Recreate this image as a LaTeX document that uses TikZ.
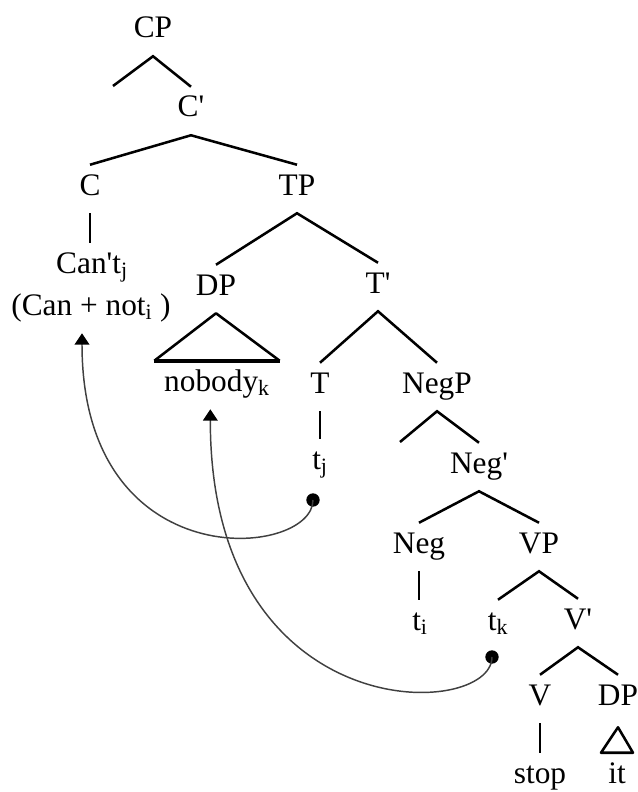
\documentclass[tikz,border=0pt]{standalone}
\usepackage{fontspec}
\setmainfont{Liberation Serif}
\usetikzlibrary{arrows.meta}
\tikzset{
  cat/.style={inner sep=0pt, text height=22.5pt, text depth=13.5pt, anchor=base,
    font=\fontsize{23.5}{27}\selectfont},
  branch/.style={line width=1.9pt},
  move/.style={-{Triangle[length=8.5pt,width=11pt,color=black]}, line width=1.1pt, black!75},
  trace/.style={circle, fill=black, inner sep=0pt, minimum size=10pt}
}

\begin{document}
\begin{tikzpicture}[x=0.75pt, y=-0.75pt]
  \useasboundingbox (0,0) rectangle (638,792);

  % categories
  \node[cat] (CP) at (153,38) {CP};
  \coordinate (spec) at (113,86);
  \node[cat] (Cbar) at (191,117) {C\textquotesingle};
  \node[cat] (C) at (90,195) {C};
  \node[cat] (TP) at (297,195) {TP};
  \node[cat] (cant) at (92,273) {Can\textquotesingle t\textsubscript{j}};
  \node[cat] (canplus) at (91,315) {(Can + not\textsubscript{i} )};
  \node[cat] (DP) at (216,295) {DP};
  \node[cat] (Tbar) at (378,293) {T\textquotesingle};
  \node[cat] (nobody) at (217,391) {nobody\textsubscript{k}};
  \node[cat] (T) at (320,393) {T};
  \node[cat] (NegP) at (437,393) {NegP};
  \coordinate (negspec) at (400,442);
  \node[cat] (tj) at (320,469) {t\textsubscript{j}};
  \node[cat] (Negbar) at (479,473) {Neg\textquotesingle};
  \node[cat] (Neg) at (419,553) {Neg};
  \node[cat] (VP) at (539,553) {VP};
  \node[cat] (ti) at (420,630) {t\textsubscript{i}};
  \node[cat] (tk) at (498,630) {t\textsubscript{k}};
  \node[cat] (Vbar) at (578,629) {V\textquotesingle};
  \node[cat] (V) at (540,705) {V};
  \node[cat] (DPit) at (618,705) {DP};
  \node[cat] (stop) at (540,783) {stop};
  \node[cat] (it) at (617,783) {it};

  % branches
  \draw[branch] (spec) -- (CP.south) -- (Cbar.north);
  \draw[branch] (C.north) -- (Cbar.south) -- (TP.north);
  \draw[branch] (C.south) -- (C.south |- cant.north);
  \draw[branch] (DP.north) -- (TP.south) -- (Tbar.north);
  \draw[branch] (T.north) -- (Tbar.south) -- (NegP.north);
  \draw[branch] (T.south) -- (tj.north);
  \draw[branch] (negspec) -- (NegP.south) -- (Negbar.north);
  \draw[branch] (Neg.north) -- (Negbar.south) -- (VP.north);
  \draw[branch] (Neg.south) -- (Neg.south |- ti.north);
  \draw[branch] (tk.north) -- (VP.south) -- (Vbar.north);
  \draw[branch] (V.north) -- (Vbar.south) -- (DPit.north);
  \draw[branch] (V.south) -- (stop.north);

  % triangles
  \draw[branch, line join=round] ([xshift=-47pt]nobody.north) -- (DP.south) -- ([xshift=47pt]nobody.north);
  \draw[line width=2.8pt] ([xshift=-47pt]nobody.north) -- ([xshift=47pt]nobody.north);
  \draw[branch, line join=round] ([xshift=-12pt]it.north) -- ([yshift=-3pt]DPit.south) -- ([xshift=12pt]it.north) -- cycle;

  % movement
  \node[trace] (dj) at (313,500) {};
  \node[trace] (dk) at (492,657) {};
  \draw[move] (dj.center) .. controls (313,558) and (82,580) .. ([xshift=-6.75pt]canplus.south);
  \draw[move] (dk.center) .. controls (492,720) and (210,730) .. ([xshift=-5pt]nobody.south);
\end{tikzpicture}
\end{document}
